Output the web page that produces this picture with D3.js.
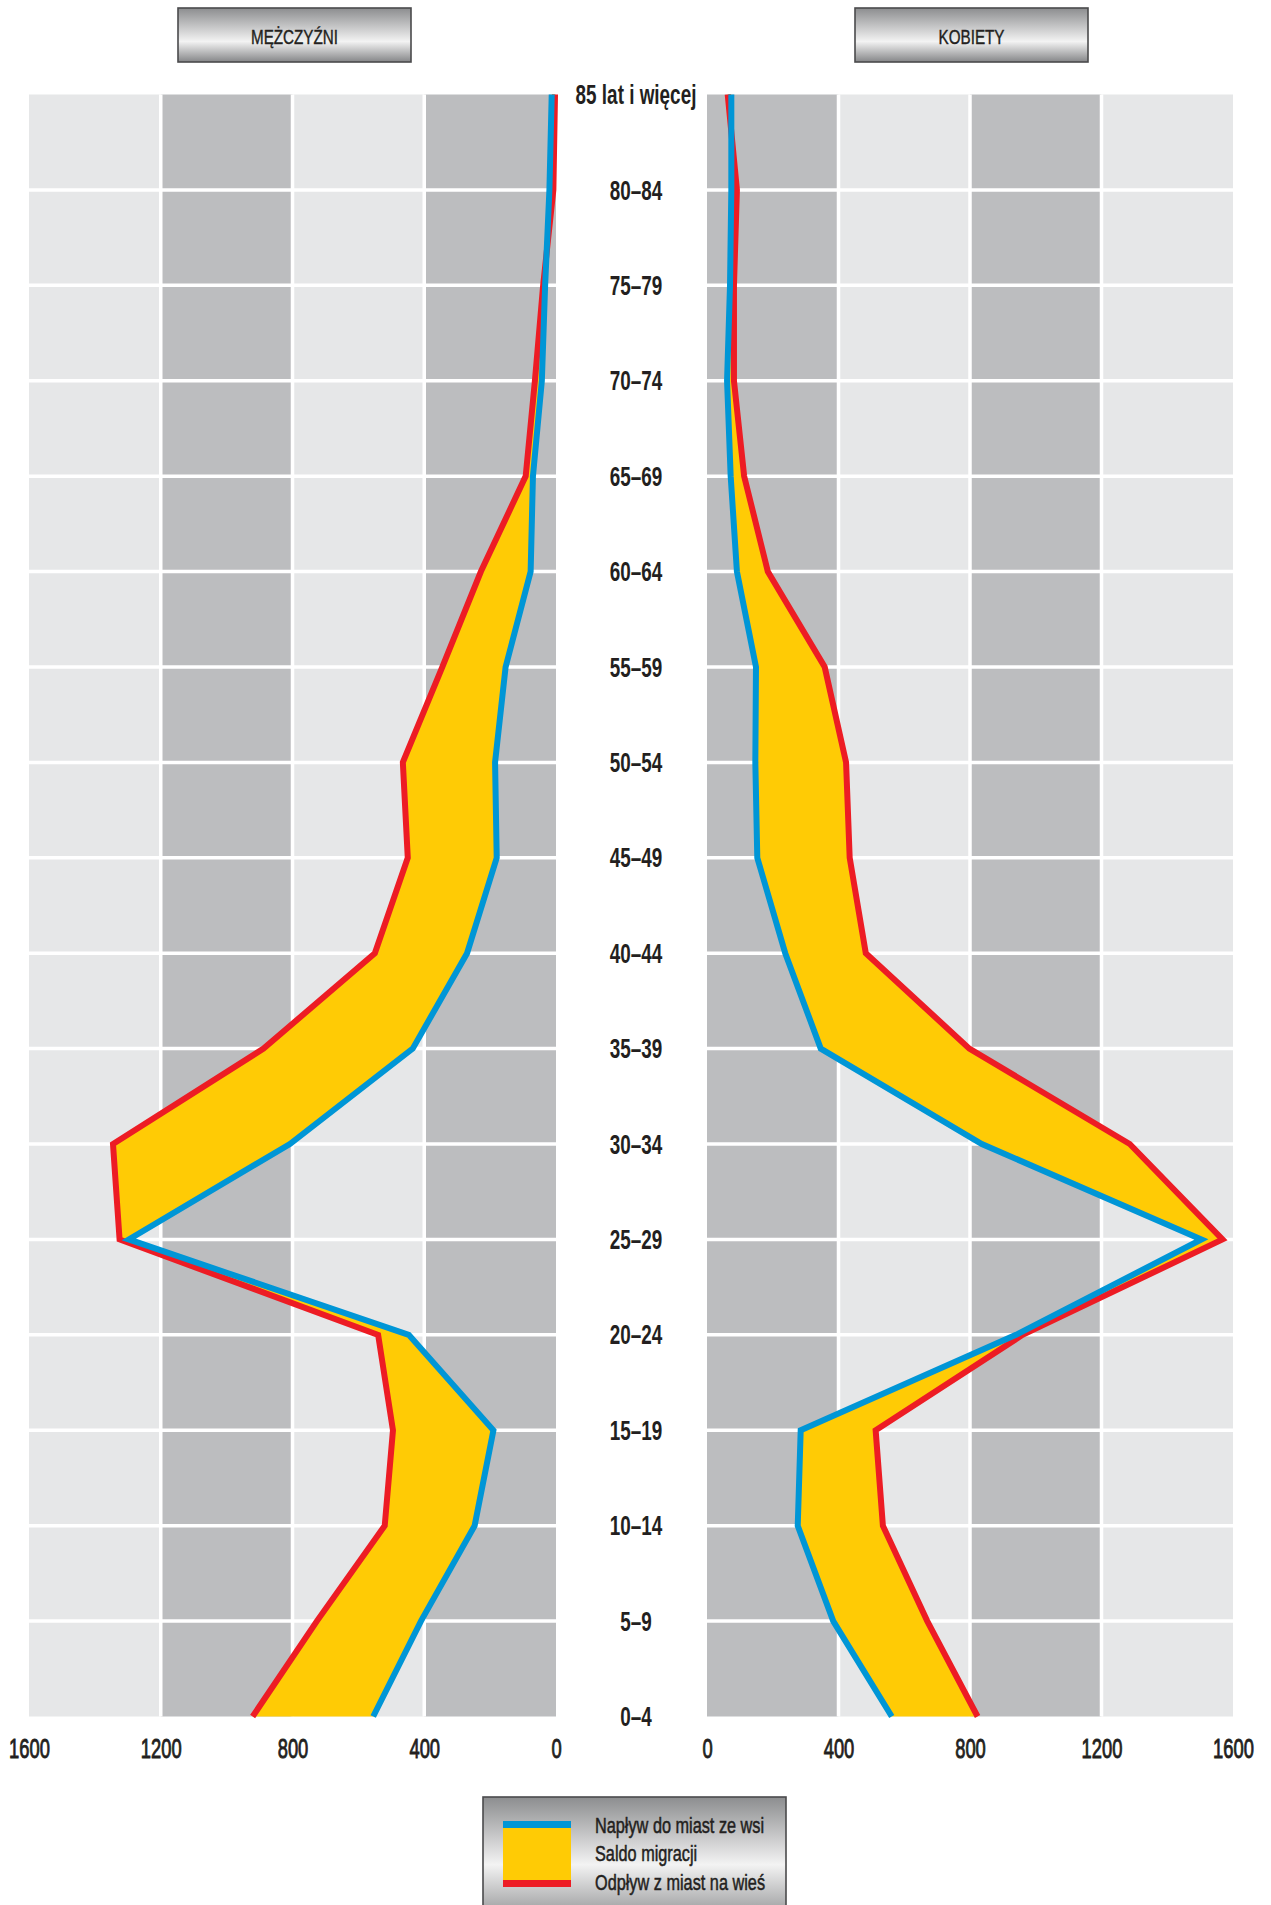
<!DOCTYPE html>
<html><head><meta charset="utf-8">
<script src="https://cdn.jsdelivr.net/npm/d3@7"></script>
<style>body{margin:0;background:#fff;} svg{display:block}</style>
</head><body>
<svg id="c" width="1271" height="1905"></svg>
<script>
// ---- data (top row = oldest group) ----
const ages = ["85 lat i więcej","80–84","75–79","70–74","65–69","60–64","55–59","50–54","45–49","40–44","35–39","30–34","25–29","20–24","15–19","10–14","5–9","0–4"];
const maleInflow    = [13, 20, 33, 43, 70, 77, 153, 185, 180, 270, 435, 808, 1297, 447, 190, 247, 410, 555];
const maleOutflow   = [3, 8, 39, 64, 92, 228, 345, 465, 450, 550, 888, 1345, 1325, 540, 495, 520, 726, 921];
const femaleInflow  = [74, 74, 70, 61, 72, 91, 149, 147, 153, 238, 346, 836, 1504, 940, 285, 276, 384, 562];
const femaleOutflow = [63, 91, 82, 82, 113, 185, 358, 423, 434, 483, 798, 1286, 1568, 960, 513, 535, 670, 823];
const tickValues = [0, 400, 800, 1200, 1600];
const panelTitles = ["MĘŻCZYŹNI", "KOBIETY"];
const legendLabels = ["Napływ do miast ze wsi", "Saldo migracji", "Odpływ z miast na wieś"];

const C = {light:"#e6e7e8", dark:"#bcbdbf", blue:"#0096d6", red:"#ed1c24", yellow:"#ffcb05", text:"#231f20"};
const FONT = "'Liberation Sans',Arial,sans-serif";

const svg = d3.select("#c");
const defs = svg.append("defs");
function metal(id, mid){
  const g = defs.append("linearGradient").attr("id", id).attr("x1",0).attr("y1",0).attr("x2",0).attr("y2",1);
  g.append("stop").attr("offset","0%").attr("stop-color","#8c8d8f");
  g.append("stop").attr("offset", mid).attr("stop-color","#f3f3f3");
  g.append("stop").attr("offset","100%").attr("stop-color","#858688");
}
metal("metal1","62%");
metal("metal2","52%");

const y = d3.scalePoint().domain(ages).range([94.5, 1716.5]);
const xL = d3.scaleLinear().domain([0,1600]).range([556, 29]);
const xR = d3.scaleLinear().domain([0,1600]).range([707, 1233]);

const panels = [
  {x: xL, inflow: maleInflow, outflow: maleOutflow, title: panelTitles[0], box:[178, 411]},
  {x: xR, inflow: femaleInflow, outflow: femaleOutflow, title: panelTitles[1], box:[855, 1088]}
];

const yTop = y(ages[0]), yBot = y(ages[ages.length-1]);

panels.forEach(p => {
  const g = svg.append("g");
  const cols = d3.range(4).map(i => [tickValues[i], tickValues[i+1]]);
  g.selectAll("rect.col").data(cols).join("rect")
    .attr("x", d => Math.min(p.x(d[0]), p.x(d[1])))
    .attr("width", d => Math.abs(p.x(d[1]) - p.x(d[0])))
    .attr("y", yTop).attr("height", yBot - yTop)
    .attr("fill", (d,i) => i % 2 === 0 ? C.dark : C.light);
  g.selectAll("line.v").data(tickValues.slice(1, 4)).join("line")
    .attr("x1", d => p.x(d)).attr("x2", d => p.x(d))
    .attr("y1", yTop).attr("y2", yBot)
    .attr("stroke", "#fff").attr("stroke-width", 3.5);
  g.selectAll("line.h").data(ages.slice(1, ages.length-1)).join("line")
    .attr("x1", p.x.range()[0]).attr("x2", p.x.range()[1])
    .attr("y1", d => y(d)).attr("y2", d => y(d))
    .attr("stroke", "#fff").attr("stroke-width", 3.5);

  const area = d3.area()
    .x0((d,i) => p.x(p.inflow[i]))
    .x1((d,i) => p.x(p.outflow[i]))
    .y(d => y(d));
  g.append("path").datum(ages).attr("d", area).attr("fill", C.yellow);

  const line = vals => d3.line().x((d,i) => p.x(vals[i])).y(d => y(d));
  g.append("path").datum(ages).attr("d", line(p.outflow))
    .attr("fill","none").attr("stroke", C.red).attr("stroke-width", 6)
    .attr("stroke-linejoin","miter").attr("stroke-miterlimit", 10);
  g.append("path").datum(ages).attr("d", line(p.inflow))
    .attr("fill","none").attr("stroke", C.blue).attr("stroke-width", 6)
    .attr("stroke-linejoin","miter").attr("stroke-miterlimit", 10);

  const ax = svg.append("g").attr("transform","translate(0,1758)")
    .call(d3.axisBottom(p.x).tickValues(tickValues).tickSize(0).tickFormat(d3.format("d")));
  ax.select(".domain").remove();
  ax.selectAll("text")
    .attr("y", 0).attr("dy", 0)
    .attr("transform", "scale(0.68,1)")
    .attr("font-family", FONT).attr("font-size", 27)
    .attr("stroke", C.text).attr("stroke-width", 0.9)
    .attr("fill", C.text);

  const hb = svg.append("g");
  hb.append("rect").attr("x", p.box[0]).attr("y", 8).attr("width", p.box[1]-p.box[0]).attr("height", 54)
    .attr("fill","url(#metal1)").attr("stroke","#4a4a4c").attr("stroke-width",1.6);
  hb.append("text")
    .attr("transform", `translate(${(p.box[0]+p.box[1])/2},44) scale(0.78,1)`)
    .attr("text-anchor","middle").attr("font-family", FONT).attr("font-size", 19.5)
    .attr("stroke", C.text).attr("stroke-width", 0.4)
    .attr("fill", C.text).text(p.title);
});

svg.append("g").selectAll("text").data(ages).join("text")
  .attr("transform", d => `translate(636,${y(d) + 9.6}) scale(0.7,1)`)
  .attr("text-anchor","middle")
  .attr("font-family", FONT).attr("font-size", 27).attr("font-weight","bold")
  .attr("fill", C.text).text(d => d);

const lg = svg.append("g");
lg.append("rect").attr("x", 483).attr("y", 1797).attr("width", 303).attr("height", 130)
  .attr("fill","url(#metal2)").attr("stroke","#4a4a4c").attr("stroke-width",1.6);
lg.append("rect").attr("x", 503).attr("y", 1821).attr("width", 68).attr("height", 66).attr("fill", C.yellow);
lg.append("rect").attr("x", 503).attr("y", 1821).attr("width", 68).attr("height", 7).attr("fill", C.blue);
lg.append("rect").attr("x", 503).attr("y", 1880).attr("width", 68).attr("height", 7).attr("fill", C.red);
lg.selectAll("text").data(legendLabels).join("text")
  .attr("transform", (d,i) => `translate(595,${1832.5 + i*28.5}) scale(0.74,1)`)
  .attr("font-family", FONT).attr("font-size", 22)
  .attr("stroke", C.text).attr("stroke-width", 0.5)
  .attr("fill", C.text).text(d => d);
</script>
</body></html>
